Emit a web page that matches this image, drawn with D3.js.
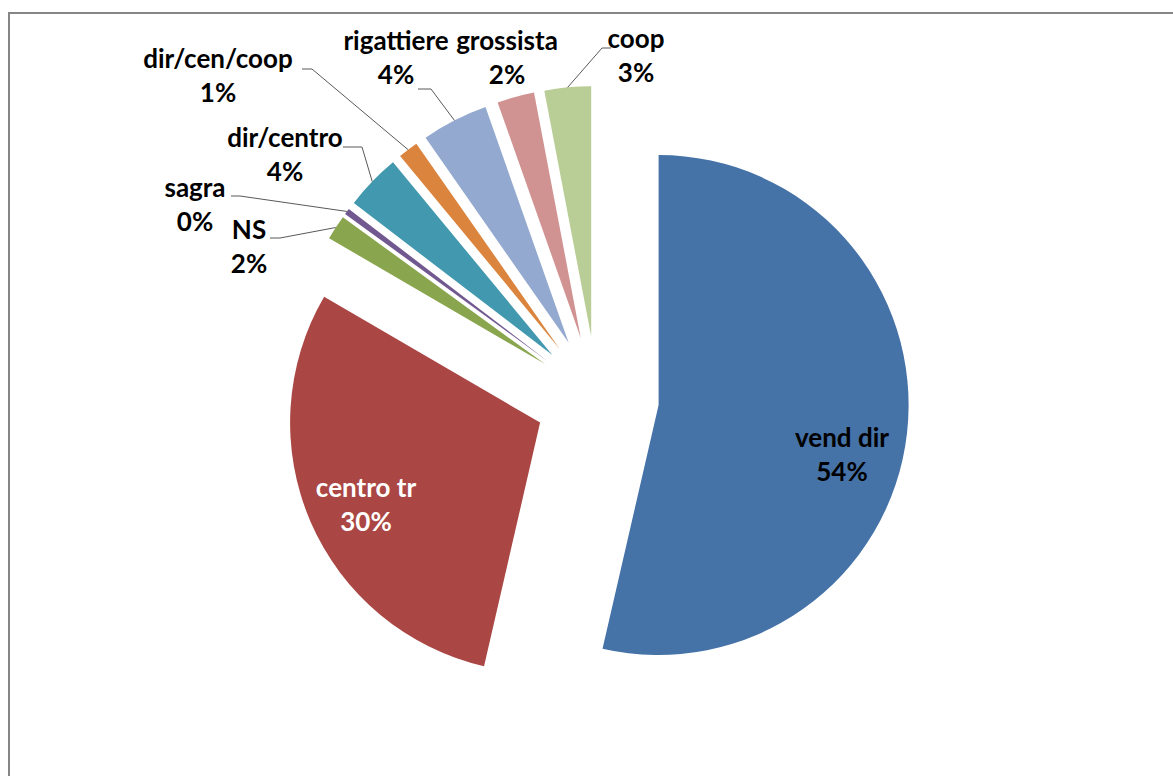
<!DOCTYPE html>
<html>
<head>
<meta charset="utf-8">
<script src="https://cdn.jsdelivr.net/npm/d3@7"></script>
<style>
  body { margin: 0; background: #fff; }
  text { font-family: Lato, 'Open Sans', sans-serif; font-weight: bold; }
</style>
</head>
<body>
<script>
// slice names, in clockwise order from 12 o'clock
var categories = ['vend dir', 'centro tr', 'NS', 'sagra', 'dir/centro',
  'dir/cen/coop', 'rigattiere', 'grossista', 'coop'];
// share of each slice (percent)
var values = [53.6, 29.8, 1.6, 0.4, 3.6, 1.3, 4.3, 2.4, 3.0];
// the rounded labels shown on the chart
var pctLabels = ['54%', '30%', '2%', '0%', '4%', '1%', '4%', '2%', '3%'];

var colors = ['#4572A7', '#AA4643', '#89A54E', '#71588F', '#4198AF',
  '#DB843D', '#93A9CF', '#D19392', '#B9CD96'];

// where each label sits (center x, first baseline y) and the stub
// of its leader line, if it has one
var labelLayout = [
  { x: 842, y: 447, fill: '#000' },
  { x: 366, y: 497, fill: '#fff' },
  { x: 249, y: 239, fill: '#000', stub: [270, 238, 280] },
  { x: 195, y: 197, fill: '#000', stub: [231, 196, 240] },
  { x: 285, y: 147, fill: '#000', stub: [343, 147, 362] },
  { x: 218, y: 68, fill: '#000', stub: [302, 69, 312] },
  { x: 396, y: 50, fill: '#000', stub: [418, 89, 431] },
  { x: 507, y: 50, fill: '#000' },
  { x: 636, y: 48, fill: '#000', stub: [611, 48, 602] }
];

function drawPie() {
  var svgWidth = 1173;
  var svgHeight = 776;
  var cx = 597;
  var cy = 398;
  var radius = 250;
  var explode = 62;
  var lineGap = 34;

  var svg = d3.select('body')
    .append('svg')
    .attr('width', svgWidth)
    .attr('height', svgHeight);

  // chart frame: only the left and top edges are in view
  svg.append('path')
    .attr('d', 'M9,' + svgHeight + 'V13H' + svgWidth)
    .attr('fill', 'none')
    .attr('stroke', '#868686')
    .attr('stroke-width', 2);

  var pie = d3.pie()
    .sort(null)
    .value(function (d) { return d; });

  var arcs = pie(values);

  var arc = d3.arc()
    .innerRadius(0)
    .outerRadius(radius);

  // offset of an exploded slice along its mid angle
  function shift(d, r) {
    var a = (d.startAngle + d.endAngle) / 2;
    return [cx + r * Math.sin(a), cy - r * Math.cos(a)];
  }

  var g = svg.append('g');

  g.selectAll('path.slice')
    .data(arcs)
    .enter()
    .append('path')
    .attr('class', 'slice')
    .attr('transform', function (d) {
      var p = shift(d, explode);
      return 'translate(' + p[0] + ',' + p[1] + ')';
    })
    .attr('d', arc)
    .attr('fill', function (d, i) { return colors[i]; });

  // leader lines: stub next to the label, then to the slice edge
  arcs.forEach(function (d, i) {
    var s = labelLayout[i].stub;
    if (!s) return;
    var a = (d.startAngle + d.endAngle) / 2;
    var apex = shift(d, explode);
    var ex = apex[0] + radius * Math.sin(a);
    var ey = apex[1] - radius * Math.cos(a);
    g.append('path')
      .attr('d', 'M' + s[0] + ',' + s[1] + 'L' + s[2] + ',' + s[1] + 'L' + ex + ',' + ey)
      .attr('fill', 'none')
      .attr('stroke', '#595959')
      .attr('stroke-width', 1);
  });

  // labels: name on the first line, percent on the second
  var labels = g.selectAll('text.lbl')
    .data(arcs)
    .enter()
    .append('text')
    .attr('class', 'lbl')
    .attr('text-anchor', 'middle')
    .attr('font-size', 26)
    .attr('fill', function (d, i) { return labelLayout[i].fill; });

  labels.append('tspan')
    .attr('x', function (d, i) { return labelLayout[i].x; })
    .attr('y', function (d, i) { return labelLayout[i].y; })
    .text(function (d, i) { return categories[i]; });

  labels.append('tspan')
    .attr('x', function (d, i) { return labelLayout[i].x; })
    .attr('y', function (d, i) { return labelLayout[i].y + lineGap; })
    .text(function (d, i) { return pctLabels[i]; });
}

drawPie();
</script>
</body>
</html>
